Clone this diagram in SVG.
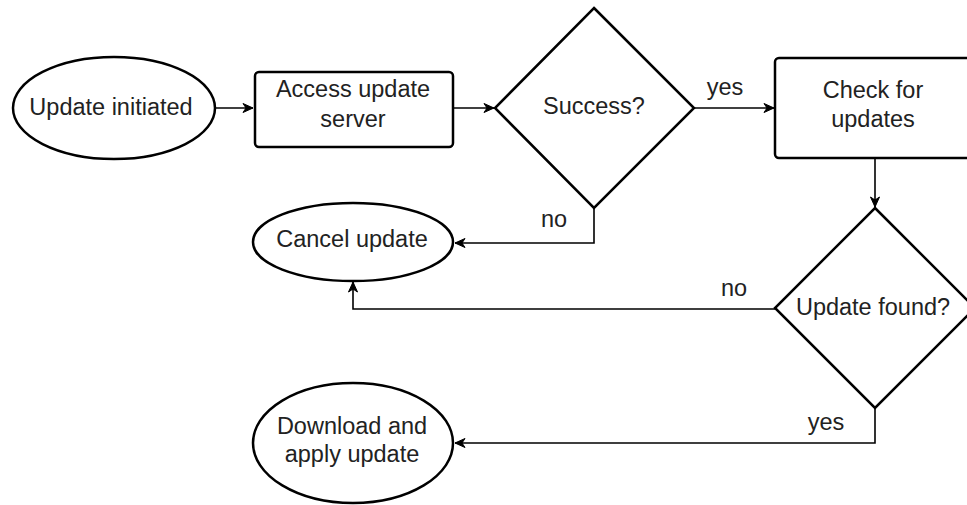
<svg xmlns="http://www.w3.org/2000/svg" width="967" height="505" viewBox="0 0 967 505">
  <defs>
    <marker id="arrow" viewBox="0 0 12 12" refX="11" refY="6" markerWidth="12" markerHeight="12" markerUnits="userSpaceOnUse" orient="auto">
      <path d="M1,1.5 L11,6 L1,10.5 L4,6 Z" fill="#000" stroke="#000" stroke-width="1" stroke-linejoin="miter"/>
    </marker>
  </defs>
  <style>
    .shape { fill: #fff; stroke: #000; stroke-width: 2.5; }
    .edge { fill: none; stroke: #000; stroke-width: 1.6; marker-end: url(#arrow); }
    .label { font-family: "Liberation Sans", Arial, Helvetica, sans-serif; font-size: 23.5px; fill: #222; text-anchor: middle; }
    .elabel { font-family: "Liberation Sans", Arial, Helvetica, sans-serif; font-size: 23.5px; fill: #222; text-anchor: middle; }
  </style>
  <rect width="967" height="505" fill="#fff"/>

  <g id="connectors">
    <path class="edge" d="M215,108 L253,108"/>
    <path class="edge" d="M453,108 L494,108"/>
    <path class="edge" d="M694,108 L774,108"/>
    <path class="edge" d="M875,158 L875,207"/>
    <path class="edge" d="M594,208 L594,243 L455,243"/>
    <path class="edge" d="M775,309 L353,309 L353,282"/>
    <path class="edge" d="M875,408 L875,443 L455,443"/>
    <text class="elabel" x="725" y="95">yes</text>
    <text class="elabel" x="554" y="227">no</text>
    <text class="elabel" x="734" y="296">no</text>
    <text class="elabel" x="826" y="430">yes</text>
  </g>

  <g id="update-initiated">
    <ellipse class="shape" cx="114" cy="108" rx="101" ry="51"/>
    <text class="label" x="111" y="115">Update initiated</text>
  </g>

  <g id="access-server">
    <rect class="shape" x="255" y="72" width="198" height="75" rx="4"/>
    <text class="label" x="353" y="97">Access update</text>
    <text class="label" x="353" y="127">server</text>
  </g>

  <g id="success">
    <polygon class="shape" points="594,8 694,108 594,208 495,108"/>
    <text class="label" x="594" y="114">Success?</text>
  </g>

  <g id="check-updates">
    <rect class="shape" x="775" y="58" width="200" height="100" rx="4"/>
    <text class="label" x="873" y="98">Check for</text>
    <text class="label" x="873" y="127">updates</text>
  </g>

  <g id="cancel-update">
    <ellipse class="shape" cx="353" cy="242" rx="100" ry="39"/>
    <text class="label" x="352" y="247">Cancel update</text>
  </g>

  <g id="update-found">
    <polygon class="shape" points="875,208 975,308 875,408 775,308"/>
    <text class="label" x="873" y="315">Update found?</text>
  </g>

  <g id="download-apply">
    <ellipse class="shape" cx="353" cy="443" rx="100" ry="60"/>
    <text class="label" x="352" y="434">Download and</text>
    <text class="label" x="352" y="462">apply update</text>
  </g>
</svg>
